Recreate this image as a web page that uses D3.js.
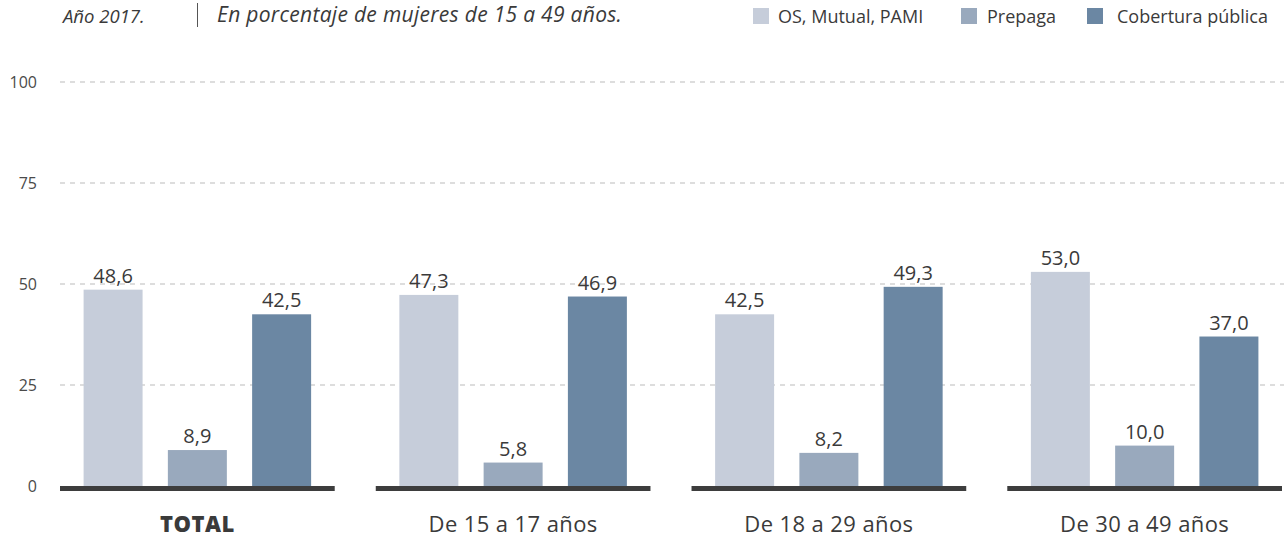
<!DOCTYPE html>
<html>
<head>
<meta charset="utf-8">
<script src="https://cdn.jsdelivr.net/npm/d3@7"></script>
<style>
  body { margin: 0; background: #fff; }
  svg { display: block; font-family: "Open Sans", "Noto Sans", sans-serif; }
</style>
</head>
<body>
<svg id="chart" width="1284" height="539"></svg>
<script>
// datos
const groups = ["TOTAL", "De 15 a 17 años", "De 18 a 29 años", "De 30 a 49 años"];
const series = ["OS, Mutual, PAMI", "Prepaga", "Cobertura pública"];
const osMutual = [48.6, 47.3, 42.5, 53.0];
const prepaga = [8.9, 5.8, 8.2, 10.0];
const publica = [42.5, 46.9, 49.3, 37.0];
const yTicks = [0, 25, 50, 75, 100];
const colors = ["#c6cdda", "#99a9bd", "#6b87a3"];

const values = [osMutual, prepaga, publica];
const fmt = d3.format(".1f");

const svg = d3.select("#chart");

// escalas
const x = d3.scaleBand().domain(groups).range([60, 1282]).paddingInner(0.13).paddingOuter(0);
const xi = d3.scaleBand().domain(series).range([0, x.bandwidth()]).paddingInner(0.3).paddingOuter(0.28);
const y = d3.scaleLinear().domain([0, 100]).range([486, 82]);

// grilla
svg.append("g")
  .selectAll("line")
  .data(yTicks.filter(d => d > 0))
  .join("line")
  .attr("x1", 60).attr("x2", 1284)
  .attr("y1", d => y(d)).attr("y2", d => y(d))
  .attr("stroke", "#d2d2d2")
  .attr("stroke-width", 1.5)
  .attr("stroke-dasharray", "5,5");

// eje y
const yAxis = d3.axisLeft(y).tickValues(yTicks).tickSize(0).tickPadding(0);
svg.append("g")
  .attr("transform", "translate(37,0)")
  .call(yAxis)
  .call(g => g.select(".domain").remove())
  .selectAll("text")
  .attr("font-size", 16)
  .attr("font-family", "'Open Sans', sans-serif")
  .attr("fill", "#4a4a4a");

// barras
const g = svg.append("g")
  .selectAll("g")
  .data(groups)
  .join("g")
  .attr("transform", d => `translate(${x(d)},0)`);

g.selectAll("rect.bar")
  .data((d, i) => series.map((s, j) => ({ s, v: values[j][i], c: colors[j] })))
  .join("rect")
  .attr("class", "bar")
  .attr("x", d => xi(d.s))
  .attr("width", xi.bandwidth())
  .attr("y", d => y(d.v))
  .attr("height", d => y(0) - y(d.v))
  .attr("fill", d => d.c);

g.selectAll("text.val")
  .data((d, i) => series.map((s, j) => ({ s, v: values[j][i] })))
  .join("text")
  .attr("class", "val")
  .attr("x", d => xi(d.s) + xi.bandwidth() / 2)
  .attr("y", d => y(d.v) - 7)
  .attr("text-anchor", "middle")
  .attr("font-size", 20)
  .attr("fill", "#3a3a3a")
  .text(d => fmt(d.v).replace(".", ","));

// linea base
g.append("rect")
  .attr("x", 0)
  .attr("width", x.bandwidth())
  .attr("y", y(0))
  .attr("height", 5)
  .attr("fill", "#3d3d3d");

// etiquetas categorias
g.append("text")
  .attr("x", x.bandwidth() / 2)
  .attr("y", 532)
  .attr("text-anchor", "middle")
  .attr("font-size", 22)
  .attr("font-weight", (d, i) => i === 0 ? 800 : 400)
  .attr("letter-spacing", (d, i) => i === 0 ? 0.5 : 0.4)
  .attr("fill", "#3a3a3a")
  .text(d => d);

// titulo
svg.append("text")
  .attr("x", 63).attr("y", 23)
  .attr("font-size", 18.5)
  .attr("font-style", "italic")
  .attr("fill", "#3a3a3a")
  .text("Año 2017.");
svg.append("line")
  .attr("x1", 197.5).attr("x2", 197.5)
  .attr("y1", 3).attr("y2", 27)
  .attr("stroke", "#555").attr("stroke-width", 1);
svg.append("text")
  .attr("x", 217).attr("y", 22)
  .attr("font-size", 21)
  .attr("font-style", "italic")
  .attr("letter-spacing", 0.3)
  .attr("fill", "#3a3a3a")
  .text("En porcentaje de mujeres de 15 a 49 años.");

// leyenda
const legX = [753, 961, 1087];
const legTextX = [778, 987, 1117];
const leg = svg.append("g")
  .selectAll("g")
  .data(series)
  .join("g");
leg.append("rect")
  .attr("x", (d, i) => legX[i]).attr("y", 8)
  .attr("width", 16).attr("height", 16)
  .attr("fill", (d, i) => colors[i]);
leg.append("text")
  .attr("x", (d, i) => legTextX[i]).attr("y", 23)
  .attr("font-size", 18)
  .attr("fill", "#3a3a3a")
  .text(d => d);
</script>
</body>
</html>
